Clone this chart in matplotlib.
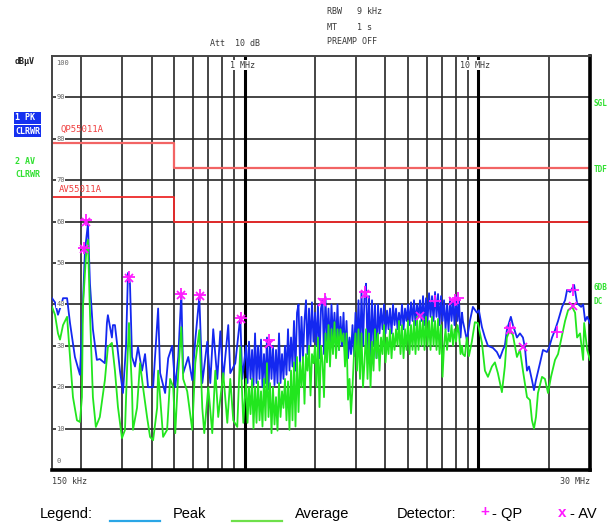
import matplotlib

matplotlib.use("Agg")
import matplotlib.pyplot as plt
from matplotlib.lines import Line2D

W, H = 616, 525

# peak detector trace below 1 MHz: frequency in MHz, level in dBuV
PK_LOW_F = [0.150, 0.1545, 0.1591, 0.1655, 0.1672, 0.174, 0.1791, 0.188, 0.1975,
            0.2014, 0.2075, 0.2137, 0.218, 0.2244, 0.2333, 0.2402, 0.2525, 0.2576,
            0.2601, 0.2706, 0.2733, 0.2788, 0.2844, 0.2929, 0.3017, 0.3108, 0.317,
            0.3233, 0.3298, 0.3397, 0.3499, 0.364, 0.375, 0.3863, 0.406, 0.4266,
            0.435, 0.457, 0.471, 0.490, 0.505, 0.520, 0.536, 0.546, 0.574, 0.597,
            0.615, 0.640, 0.659, 0.692, 0.713, 0.734, 0.764, 0.787, 0.810, 0.851,
            0.868, 0.912, 0.958, 0.977]
PK_LOW_L = [41.5, 40.5, 37.5, 40.5, 41.5, 41.5, 35.5, 27.3, 23.0,
            34.0, 53.0, 59.5, 45.0, 34.0, 26.6, 26.8, 25.8, 35.5,
            37.4, 32.0, 35.0, 35.0, 30.7, 24.0, 18.6, 29.7, 47.6,
            45.0, 27.3, 25.0, 29.7, 24.0, 28.0, 20.0, 20.0, 39.0,
            23.4, 18.6, 27.0, 30.0, 20.0, 27.3, 42.7, 23.4, 27.3, 21.7,
            31.4, 41.8, 21.0, 31.0, 21.0, 34.0, 22.0, 33.5, 22.0, 35.0,
            23.4, 25.8, 37.0, 22.0]

# sweep points of the dense 1 - 8.5 MHz band (shared by both traces)
MID_F = [1.014, 1.029, 1.044, 1.060, 1.076, 1.091, 1.108, 1.124, 1.141, 1.158,
         1.175, 1.192, 1.210, 1.228, 1.246, 1.265, 1.284, 1.303, 1.322, 1.342,
         1.362, 1.382, 1.403, 1.424, 1.445, 1.466, 1.488, 1.510, 1.533, 1.555,
         1.579, 1.602, 1.626, 1.650, 1.675, 1.700, 1.725, 1.751, 1.777, 1.803,
         1.830, 1.857, 1.885, 1.913, 1.941, 1.970, 2.000, 2.029, 2.059, 2.090,
         2.121, 2.153, 2.185, 2.217, 2.250, 2.284, 2.318, 2.352, 2.387, 2.423,
         2.459, 2.496, 2.533, 2.570, 2.609, 2.648, 2.687, 2.727, 2.768, 2.809,
         2.851, 2.893, 2.936, 2.980, 3.024, 3.069, 3.115, 3.161, 3.208, 3.256,
         3.305, 3.354, 3.404, 3.455, 3.506, 3.558, 3.611, 3.665, 3.719, 3.775,
         3.831, 3.888, 3.946, 4.005, 4.064, 4.125, 4.186, 4.249, 4.312, 4.376,
         4.441, 4.507, 4.574, 4.642, 4.711, 4.782, 4.853, 4.925, 4.998, 5.073,
         5.148, 5.225, 5.302, 5.381, 5.461, 5.543, 5.625, 5.709, 5.794, 5.880,
         5.968, 6.057, 6.147, 6.238, 6.331, 6.426, 6.521, 6.618, 6.717, 6.817,
         6.918, 7.021, 7.126, 7.232, 7.340, 7.449, 7.560, 7.672, 7.786, 7.902,
         8.020, 8.139, 8.260, 8.383, 8.508]
PK_MID_L = [30, 21, 31, 22, 29, 20.5, 33, 21, 30, 22,
            31.5, 20, 28, 21, 32, 19.5, 31, 22, 30, 20.5,
            29, 21, 33, 21, 28, 22, 30, 23, 34, 24,
            32, 25, 36, 24, 38, 40, 26, 37, 27, 36,
            41, 28, 39, 30, 40.5, 31, 38, 30, 40, 27,
            39, 41, 28, 41.8, 31, 39, 30, 40, 32, 38,
            31, 40, 29, 37, 30, 38, 28, 36, 27, 32,
            28, 35, 27.5, 38, 30, 41, 28, 43, 30, 42,
            45, 29, 42, 27, 41, 30, 40, 27, 40, 33,
            39, 34, 40, 33, 38.5, 34, 39, 33, 40, 35,
            39, 34, 38, 35, 40, 34, 39, 36, 40, 35,
            40.5, 36, 41, 35, 40, 37, 41, 36, 42, 35,
            41.5, 36, 42.7, 37, 42, 36, 43, 37, 42.5, 35,
            42, 36, 41, 34, 40, 33.5, 41.5, 36, 41, 35,
            42, 36, 41, 32, 38]
AV_MID_L = [22, 11.4, 20, 13.5, 22, 10, 20, 11.4, 21.4, 12,
            19, 10.5, 22, 12, 25.8, 12.8, 21, 8.9, 20, 11,
            17.6, 9.5, 21, 12.8, 19, 15, 22, 12, 21.4, 9.7,
            24, 12, 26, 10.5, 27.3, 14, 26, 20, 27.3, 16,
            28, 24, 30, 18, 28, 25.8, 30, 20, 32, 15.2,
            30, 26, 17.6, 33, 26, 35, 25, 34, 28, 35.7,
            27, 34, 29, 34, 31, 33, 25, 33, 17, 22,
            13.7, 20, 28, 33, 24, 34, 22, 33, 20, 26,
            34, 22, 33, 20, 31, 24, 34, 27, 33, 24,
            32, 28, 35, 26, 32, 28, 34, 27, 33, 29,
            34, 30, 36, 28, 35, 27, 34, 29, 36, 28,
            35, 29, 36, 28, 37, 29, 36, 30, 36.5, 29,
            37, 30, 36, 29, 37, 30, 36, 29, 36.5, 28,
            35, 22.5, 30, 34, 29, 33, 31, 35, 30, 34,
            31, 35, 33, 28, 30]

# peak trace above 8.5 MHz
PK_HIGH_F = [8.579, 8.924, 9.192, 9.467, 9.848, 10.04, 10.35, 10.66, 10.98,
             11.53, 11.99, 12.35, 12.72, 12.97, 13.23, 13.76, 14.04, 14.61,
             15.05, 15.50, 15.81, 16.13, 16.45, 16.94, 17.28, 17.62, 18.33,
             18.88, 19.64, 20.03, 20.64, 21.26, 21.90, 22.79, 23.47, 23.94,
             24.66, 25.65, 26.42, 27.49, 28.04, 28.60, 29.17, 30.0]
PK_HIGH_L = [36.0, 31.4, 36.0, 39.4, 38.0, 38.6, 34.5, 32.0, 30.0,
             29.5, 28.5, 27.0, 29.0, 30.0, 33.8, 37.0, 35.0, 32.0,
             33.0, 32.0, 29.5, 24.0, 25.0, 21.7, 19.3, 21.7, 25.8,
             29.0, 28.5, 29.5, 32.0, 33.8, 36.0, 39.4, 41.0, 43.5,
             43.0, 44.7, 40.3, 39.4, 40.0, 36.0, 37.0, 35.5]

# average trace below 1 MHz
AV_LOW_F = [0.150, 0.1545, 0.1591, 0.1623, 0.1672, 0.174, 0.1791, 0.1844, 0.1918,
            0.1975, 0.2014, 0.2034, 0.2095, 0.2137, 0.218, 0.2244, 0.231, 0.2402,
            0.2525, 0.2601, 0.2706, 0.2788, 0.2872, 0.2988, 0.3078, 0.3139, 0.3202,
            0.3298, 0.333, 0.3465, 0.3569, 0.3676, 0.3825, 0.394, 0.406, 0.4224,
            0.4266, 0.435, 0.448, 0.466, 0.480, 0.495, 0.505, 0.520, 0.536, 0.546,
            0.568, 0.597, 0.615, 0.640, 0.659, 0.672, 0.699, 0.727, 0.749, 0.771,
            0.810, 0.843, 0.868, 0.894, 0.930, 0.958, 0.987]
AV_LOW_L = [39.4, 37.5, 33.0, 31.5, 35.0, 37.0, 27.3, 17.6, 12.0,
            11.6, 17.6, 39.4, 51.5, 55.6, 38.0, 17.6, 10.4, 12.8,
            21.7, 29.7, 30.7, 24.0, 15.2, 7.7, 9.7, 24.0, 35.5,
            19.3, 9.7, 15.0, 25.8, 20.0, 12.8, 8.0, 7.2, 15.0,
            24.0, 17.6, 8.0, 9.7, 22.0, 20.0, 8.9, 23.4, 34.5, 22.0,
            19.0, 9.7, 25.8, 33.8, 15.0, 8.9, 20.0, 8.9, 24.0, 12.8,
            23.4, 11.4, 22.0, 12.0, 10.4, 29.7, 11.4]

# average trace above 8.5 MHz
AV_HIGH_F = [8.579, 8.75, 8.924, 9.102, 9.37, 9.655, 9.945, 10.35, 10.66,
             10.98, 11.42, 11.76, 12.11, 12.60, 12.97, 13.23, 13.63, 14.04,
             14.61, 15.05, 15.50, 16.13, 16.61, 16.94, 17.28, 17.62, 17.97,
             18.70, 19.25, 19.84, 20.43, 21.26, 21.90, 22.79, 23.47, 24.18,
             25.15, 25.90, 26.42, 27.2, 28.04, 28.32, 29.17, 30.0]
AV_HIGH_L = [28.0, 27.5, 32.0, 27.5, 31.0, 35.7, 35.5, 30.7, 24.0,
             22.5, 25.0, 26.0, 23.4, 18.8, 25.0, 32.0, 33.8, 32.6,
             27.3, 29.0, 24.0, 17.6, 16.9, 12.0, 10.0, 12.8, 18.6,
             22.5, 22.0, 18.6, 22.5, 26.6, 28.0, 32.6, 36.0, 38.6,
             39.4, 38.0, 32.0, 33.0, 26.6, 35.5, 29.0, 26.6]

# EN 55011 class A limits
LIM_F = [0.15, 0.5, 30.0]
QP_LIM = [79, 73, 73]
AV_LIM = [66, 60, 60]

# final measurement markers
QP_F = [0.205, 0.2095, 0.320, 0.536, 0.646, 0.967, 1.274, 2.21, 3.276,
        6.514, 7.93, 8.167, 13.63, 21.69, 25.40]
QP_L = [53.6, 60.3, 46.6, 42.5, 42.3, 36.8, 31.5, 41.3, 43.0,
        40.8, 41.0, 41.5, 34.3, 33.4, 43.5]
AVM_F = [0.205, 0.2095, 0.320, 0.536, 0.646, 0.967, 1.274, 2.148, 3.276,
         5.622, 7.78, 13.63, 15.50, 25.40]
AVM_L = [53.3, 60.0, 46.3, 42.3, 42.0, 36.5, 30.5, 40.6, 42.6,
         37.2, 40.8, 33.8, 29.7, 39.6]

Y_TICKS = [0, 10, 20, 30, 40, 50, 60, 70, 80, 90, 100]
GRID_F = [0.2, 0.3, 0.4, 0.5, 0.6, 0.7, 0.8, 0.9, 2, 3, 4, 5, 6, 7, 8, 9, 20]
DECADE_F = [1, 10]

PEAK_C = "#1428f0"
AVG_C = "#22e61e"
MAG = "#ff1aff"
TXT = "#3a3a3a"
MONO = "DejaVu Sans Mono"


def fx(x):
    return x / W


def fy(y):
    return 1 - y / H


pk_f = PK_LOW_F + MID_F + PK_HIGH_F
pk_l = PK_LOW_L + PK_MID_L + PK_HIGH_L
av_f = AV_LOW_F + MID_F + AV_HIGH_F
av_l = AV_LOW_L + AV_MID_L + AV_HIGH_L

fig = plt.figure(figsize=(W / 100, H / 100), dpi=100)
ax = fig.add_axes([fx(52), fy(470), 538 / W, 414 / H])
ax.set_xscale("log")
ax.set_xlim(0.15, 30)
ax.set_ylim(0, 100)
ax.set_xticks([])
ax.set_yticks([])
ax.minorticks_off()

for lv in Y_TICKS[1:-1]:
    ax.axhline(lv, color="#262626", lw=1.2, zorder=1)
for f in GRID_F:
    ax.axvline(f, color="#262626", lw=1.2, zorder=1)
for f in DECADE_F:
    ax.axvline(f, color="black", lw=2.2, zorder=1)

for s in ("left", "top"):
    ax.spines[s].set_color("#444444")
    ax.spines[s].set_linewidth(1.4)
for s in ("right", "bottom"):
    ax.spines[s].set_color("black")
    ax.spines[s].set_linewidth(2.6)

ax.step(LIM_F, QP_LIM, where="post", color="#f26464", lw=1.6, zorder=2)
ax.step(LIM_F, AV_LIM, where="post", color="#ee2a2a", lw=1.3, zorder=2)

ax.plot(pk_f, pk_l, color=PEAK_C, lw=1.3, zorder=3)
ax.plot(av_f, av_l, color=AVG_C, lw=1.3, zorder=4)
ax.plot(QP_F, QP_L, ls="", marker="+", ms=8, mew=1.3, color=MAG, zorder=5)
ax.plot(AVM_F, AVM_L, ls="", marker="x", ms=6, mew=1.3, color=MAG, zorder=5)

# level labels drawn inside the grid like the analyzer does
for lv in Y_TICKS:
    va = "center"
    yy = lv
    if lv == 100:
        yy, va = 99, "top"
    elif lv == 0:
        yy, va = 1.5, "bottom"
    ax.text(0.157, yy, str(lv), fontsize=5, family=MONO, color="#666666",
            va=va, ha="left", zorder=6,
            bbox=dict(facecolor="white", edgecolor="none", pad=0.2))

ax.text(0.163, 81.2, "QP55011A", fontsize=6.5, family=MONO, color="#f04040",
        va="bottom", ha="left", zorder=7)
ax.text(0.160, 66.6, "AV55011A", fontsize=6.5, family=MONO, color="#f04040",
        va="bottom", ha="left", zorder=6)
ax.text(0.87, 97.8, "1 MHz", fontsize=6, family=MONO, color=TXT,
        va="center", ha="left", zorder=6,
        bbox=dict(facecolor="white", edgecolor="none", pad=0.2))
ax.text(8.3, 97.8, "10 MHz", fontsize=6, family=MONO, color=TXT,
        va="center", ha="left", zorder=6,
        bbox=dict(facecolor="white", edgecolor="none", pad=0.2))

# header settings
fig.text(fx(327), fy(12), "RBW   9 kHz", fontsize=6, family=MONO, color=TXT,
         va="center")
fig.text(fx(327), fy(27), "MT    1 s", fontsize=6, family=MONO, color=TXT,
         va="center")
fig.text(fx(327), fy(42), "PREAMP OFF", fontsize=6, family=MONO, color=TXT,
         va="center")
fig.text(fx(210), fy(43), "Att  10 dB", fontsize=6, family=MONO, color=TXT,
         va="center")

# left trace info
fig.text(fx(15), fy(62), "dB\u00b5V", fontsize=6, family=MONO, color="#222222",
         va="center", weight="bold")
for yy, s in ((118, "1 PK "), (131, "CLRWR")):
    fig.text(fx(15), fy(yy), s, fontsize=6, family=MONO, color="white",
             va="center", weight="bold",
             bbox=dict(facecolor="#1530f0", edgecolor="none", pad=0.8))
fig.text(fx(15), fy(161), "2 AV", fontsize=6, family=MONO, color="#30e030",
         va="center", weight="bold")
fig.text(fx(15), fy(175), "CLRWR", fontsize=6, family=MONO, color="#30e030",
         va="center", weight="bold")

# right annotations
for yy, s in ((104, "SGL"), (170, "TDF"), (288, "6DB"), (301, "DC")):
    fig.text(fx(594), fy(yy), s, fontsize=5.5, family=MONO, color="#30e030",
             va="center", weight="bold")

fig.text(fx(52), fy(482), "150 kHz", fontsize=6, family=MONO, color=TXT,
         va="center")
fig.text(fx(590), fy(482), "30 MHz", fontsize=6, family=MONO, color=TXT,
         va="center", ha="right")

# legend row
LEG = "Liberation Sans"
fig.text(fx(40), fy(514), "Legend:", fontsize=10.5, family=LEG, va="center")
fig.add_artist(Line2D([fx(110), fx(160)], [fy(521), fy(521)],
                      color="#2aa6e6", lw=1.6))
fig.text(fx(173), fy(514), "Peak", fontsize=10.5, family=LEG, va="center")
fig.add_artist(Line2D([fx(232), fx(282)], [fy(521), fy(521)],
                      color="#6ee04a", lw=1.6))
fig.text(fx(295), fy(514), "Average", fontsize=10.5, family=LEG, va="center")
fig.text(fx(397), fy(514), "Detector:", fontsize=10.5, family=LEG, va="center")
fig.text(fx(480), fy(512), "+", fontsize=11, family=LEG, color=MAG,
         va="center", weight="bold")
fig.text(fx(492), fy(514), "- QP", fontsize=10.5, family=LEG, va="center")
fig.text(fx(558), fy(513), "x", fontsize=11, family=LEG, color=MAG,
         va="center", weight="bold")
fig.text(fx(570), fy(514), "- AV", fontsize=10.5, family=LEG, va="center")

fig.savefig("out.png", dpi=100)
